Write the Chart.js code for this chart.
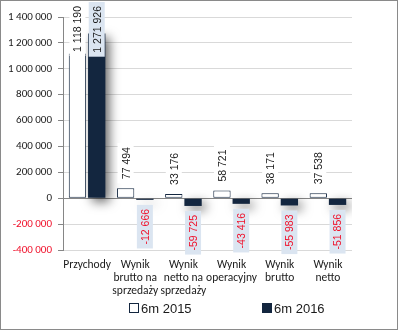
<!DOCTYPE html>
<html>
<head>
  <meta charset="utf-8">
  <script src="https://cdn.jsdelivr.net/npm/chart.js"></script>
  <style>
    body { margin: 0; background: #fff; }
    #frame { width: 398px; height: 330px; box-sizing: border-box; border: 1px solid #8a8a8a; }
    canvas { display: block; }
  </style>
</head>
<body>
  <div id="frame"><canvas id="chart" width="396" height="328"></canvas></div>

  <script>
    const categories = [
      'Przychody',
      ['Wynik', 'brutto na', 'sprzedaży'],
      ['Wynik', 'netto na', 'sprzedaży'],
      ['Wynik', 'operacyjny'],
      ['Wynik', 'brutto'],
      ['Wynik', 'netto']
    ];
    const values2015 = [1118190, 77494, 33176, 58721, 38171, 37538];
    const values2016 = [1271926, -12666, -59725, -43416, -55983, -51856];
    const seriesNames = ['6m 2015', '6m 2016'];

    const navy = '#13263f';
    const red = '#f0102a';
    const fontFamily = 'Carlito, "Liberation Sans Narrow", "Liberation Sans", Arial, sans-serif';

    function fmt(v) {
      const s = Math.abs(v).toString().replace(/\B(?=(\d{3})+(?!\d))/g, ' ');
      return (v < 0 ? '-' : '') + s;
    }

    // shadow under the 2016 bars
    const shadowPlugin = {
      id: 'shadow',
      beforeDatasetDraw(chart, args) {
        if (args.index !== 1) return;
        const ctx = chart.ctx;
        ctx.save();
        ctx.shadowColor = 'rgba(0,0,0,0.6)';
        ctx.shadowBlur = 11;
        ctx.shadowOffsetX = 4;
        ctx.shadowOffsetY = 4;
      },
      afterDatasetDraw(chart, args) {
        if (args.index !== 1) return;
        chart.ctx.restore();
      }
    };

    // rotated value labels with a background box
    const labelPlugin = {
      id: 'valueLabels',
      afterDatasetsDraw(chart) {
        const ctx = chart.ctx;
        ctx.save();
        ctx.font = '10.5px "Liberation Sans", Arial, sans-serif';
        chart.data.datasets.forEach((ds, di) => {
          const meta = chart.getDatasetMeta(di);
          meta.data.forEach((bar, i) => {
            const v = ds.data[i];
            const text = fmt(v);
            const w = ctx.measureText(text).width;
            const boxLen = w + 8;
            const boxThick = 16;
            let top;
            if (v >= 0) {
              top = bar.y - 5 - boxLen;
              if (top < 1) top = 1;
            } else {
              top = bar.y + 5;
            }
            ctx.fillStyle = di === 0 ? '#ffffff' : '#dbe5f1';
            ctx.fillRect(bar.x - boxThick / 2, top, boxThick, boxLen);
            ctx.save();
            ctx.translate(bar.x, top + boxLen / 2);
            ctx.rotate(-Math.PI / 2);
            ctx.fillStyle = v < 0 ? red : '#1a1a1a';
            ctx.textAlign = 'center';
            ctx.textBaseline = 'middle';
            ctx.fillText(text, 0, 1);
            ctx.restore();
          });
        });
        ctx.restore();
      }
    };

    // legend drawn below the axis labels
    const legendPlugin = {
      id: 'bottomLegend',
      afterDraw(chart) {
        const ctx = chart.ctx;
        const xs = [128, 261];
        ctx.save();
        ctx.font = '13px "Liberation Sans", Arial, sans-serif';
        ctx.textBaseline = 'middle';
        seriesNames.forEach((name, i) => {
          ctx.fillStyle = i === 0 ? '#ffffff' : navy;
          ctx.fillRect(xs[i], 302, 10, 10);
          ctx.strokeStyle = navy;
          ctx.lineWidth = 1;
          ctx.strokeRect(xs[i] + 0.5, 302.5, 9, 9);
          ctx.fillStyle = '#1a1a1a';
          ctx.fillText(name, xs[i] + 12, 308);
        });
        ctx.restore();
      }
    };

    new Chart(document.getElementById('chart'), {
      type: 'bar',
      data: {
        labels: categories,
        datasets: [
          {
            label: seriesNames[0],
            data: values2015,
            backgroundColor: '#ffffff',
            borderColor: navy,
            borderWidth: 1,
            borderSkipped: false
          },
          {
            label: seriesNames[1],
            data: values2016,
            backgroundColor: navy,
            borderColor: navy,
            borderWidth: 0
          }
        ]
      },
      options: {
        responsive: false,
        animation: false,
        layout: { padding: { top: 16, right: 45, left: 0, bottom: 0 } },
        scales: {
          x: {
            afterFit(scale) { scale.height = 79; },
            grid: { display: false, drawTicks: false },
            border: { display: false },
            categoryPercentage: 0.88,
            barPercentage: 1,
            ticks: {
              color: '#1a1a1a',
              font: { family: fontFamily, size: 11.5, lineHeight: 1.13 },
              maxRotation: 0,
              autoSkip: false,
              padding: 9
            }
          },
          y: {
            min: -400000,
            max: 1400000,
            afterFit(scale) { scale.width = 62; },
            grid: {
              color: c => (c.tick && c.tick.value === 0) ? '#868686' : '#d9d9d9',
              tickColor: '#868686',
              tickLength: 5
            },
            border: { color: '#868686' },
            ticks: {
              stepSize: 200000,
              padding: 6,
              color: c => c.tick.value < 0 ? red : '#1a1a1a',
              font: { family: fontFamily, size: 11 },
              callback: v => fmt(v)
            }
          }
        },
        plugins: {
          tooltip: { enabled: false },
          legend: { display: false }
        }
      },
      plugins: [shadowPlugin, labelPlugin, legendPlugin]
    });
  </script>
</body>
</html>
